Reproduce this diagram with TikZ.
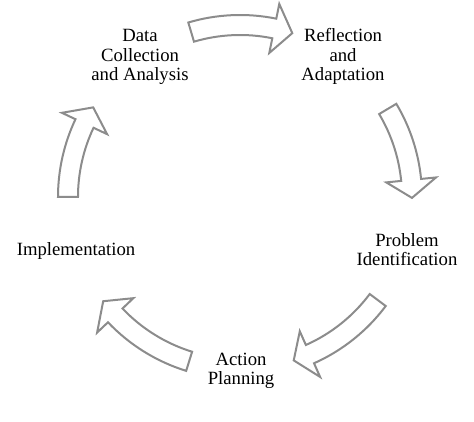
\documentclass[tikz,border=0pt]{standalone}
\usepackage{fontspec}
\setmainfont{Liberation Serif}
\usetikzlibrary{calc}
\definecolor{arrowgray}{RGB}{140,140,140}
\tikzset{
  lbl/.style={font=\fontsize{18.7}{#1}\selectfont, align=center, inner sep=0pt},
  lbl/.default=19.5,
  blockarrow/.style={draw=arrowgray, fill=white, line width=2pt, line join=miter}
}
% tail angle, head-base angle, tip angle (clockwise arrow on the cycle circle)
\newcommand{\cyclearrow}[3]{%
  \draw[blockarrow] ($(C)+(#1:182pt)$) arc[start angle=#1, end angle=#2, radius=182pt]
    -- ($(C)+(#2:197pt)$) -- ($(C)+(#3:172pt)$) -- ($(C)+(#2:147pt)$)
    -- ($(C)+(#2:162pt)$) arc[start angle=#2, end angle=#1, radius=162pt] -- cycle;}
\begin{document}
\begin{tikzpicture}[x=1pt,y=1pt]
\useasboundingbox (0,0) rectangle (474,422);
\coordinate (C) at (240,225);
% labels
\node[lbl] (data) at (140,364.7) {\strut Data\\Collection\\and Analysis\strut};
\node[lbl] (refl) at (343,364.7) {\strut Reflection\\and\\Adaptation\strut};
\node[lbl=18] (prob) at (407,169.8) {\strut Problem\\Identification\strut};
\node[lbl=18] (act) at (241,50.6) {\strut Action\\Planning\strut};
\node[lbl=18.5] (impl) at (76,170.7) {\strut Implementation};
% cycle arrows
\cyclearrow{106.5}{78.5}{72.3}
\cyclearrow{30.8}{5.7}{-0.3}
\cyclearrow{-36.8}{-66}{-71.8}
\cyclearrow{-107.2}{-136.5}{-142.7}
\cyclearrow{180}{154.7}{148.6}
\end{tikzpicture}
\end{document}
